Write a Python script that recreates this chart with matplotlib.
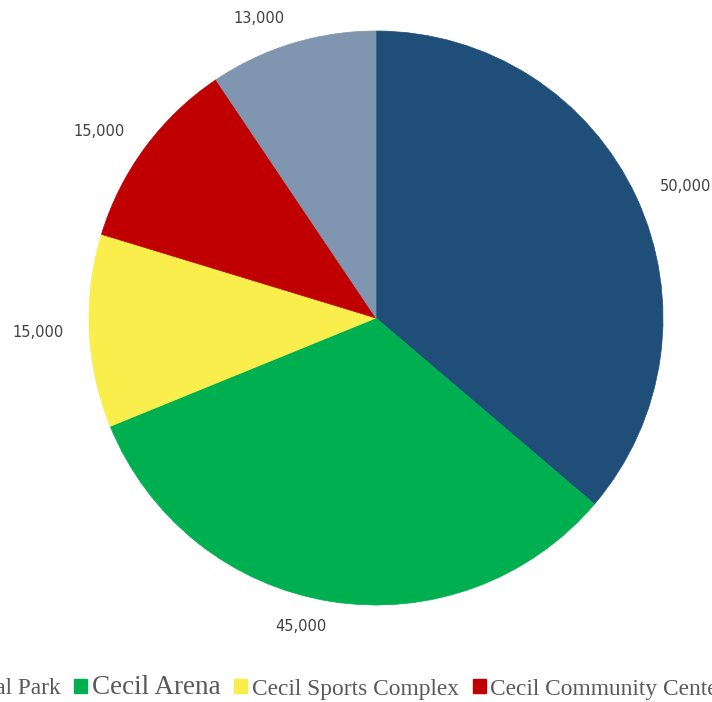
import matplotlib.pyplot as plt
from matplotlib.patches import Patch

# datos del gráfico
lugares = ['Cecil Central Park', 'Cecil Arena', 'Cecil Sports Complex',
           'Cecil Community Center', 'Cecil Other Venues']
asistencia = [50000, 45000, 15000, 15000, 13000]
colores = ['#1F4E79', '#00B050', '#F9EE4B', '#C00000', '#8096B0']
etiquetas = [f'{v:,}' for v in asistencia]

fig = plt.figure(figsize=(7.12, 7.02), dpi=100)
W, H = 712, 702
cx, cy, R = 376, 702 - 318, 287
half = 300
ax = fig.add_axes([(cx - half) / W, (cy - half) / H, 2 * half / W, 2 * half / H])

cunas, textos = ax.pie(asistencia, labels=etiquetas, colors=colores,
                       startangle=90, counterclock=False, labeldistance=1.09,
                       wedgeprops=dict(linewidth=0.5),
                       textprops=dict(fontsize=10.5, color='#404040',
                                      family='DejaVu Sans'))
for w, c in zip(cunas, colores):
    w.set_edgecolor(c)
for t in textos:
    t.set_va('center')

lim = half / R
ax.set_xlim(-lim, lim)
ax.set_ylim(-lim, lim)

# leyenda (recortada como en la imagen original)
handles = [Patch(facecolor=c, edgecolor=c) for c in colores]
leg = fig.legend(handles, lugares, loc='center left', ncol=5,
                 bbox_to_anchor=(-130 / W, 1 - 688 / H), frameon=False,
                 handlelength=0.55, handleheight=0.55, handletextpad=0.2,
                 columnspacing=0.6, borderaxespad=0, borderpad=0,
                 prop=dict(family='Liberation Serif', size=16.8))
for t in leg.get_texts():
    t.set_color('#595959')
leg.get_texts()[1].set_fontsize(19.5)

fig.savefig('out.png', dpi=100)
